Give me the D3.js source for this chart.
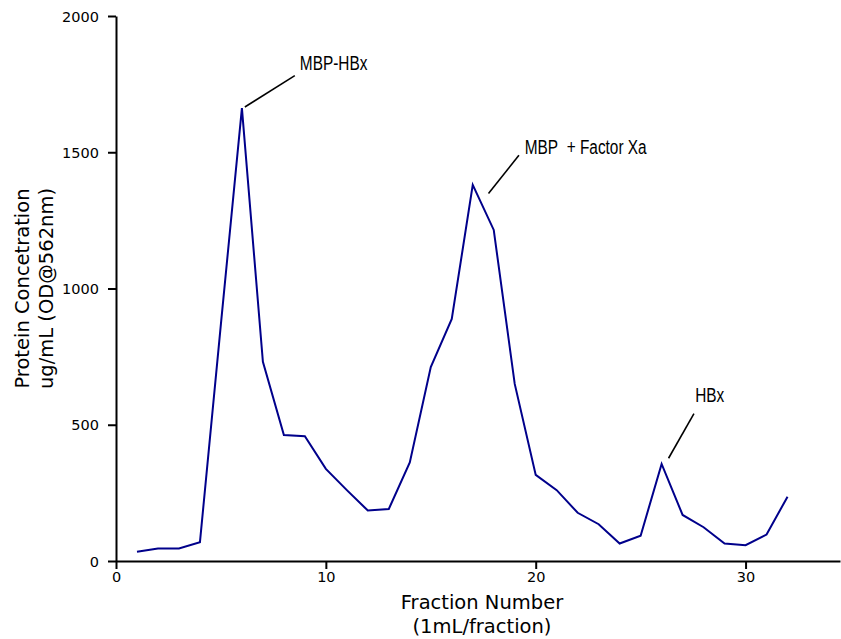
<!DOCTYPE html>
<html>
<head>
<meta charset="utf-8">
<script src="https://cdn.jsdelivr.net/npm/d3@7"></script>
<style>
  body { margin: 0; background: #fff; }
  svg { display: block; }
  .tick text { font-family: "DejaVu Sans", sans-serif; font-size: 14.5px; fill: #000; }
  .axis-title { font-family: "DejaVu Sans", sans-serif; font-size: 19.5px; fill: #000; }
  .note { font-family: "Liberation Sans", Arial, sans-serif; font-size: 20px; fill: #000; }
</style>
</head>
<body>
<div id="chart"></div>
<script>
// fraction number vs protein concentration
const fractions = [1, 2, 3, 4, 5, 6, 7, 8, 9, 10, 11, 12, 13, 14, 15, 16,
  17, 18, 19, 20, 21, 22, 23, 24, 25, 26, 27, 28, 29, 30, 31, 32];
const concentration = [34, 46, 46, 69, 870, 1662, 731, 462, 458, 338, 260, 185, 191, 362, 712, 888,
  1380, 1215, 650, 316, 260, 177, 135, 64, 93, 356, 169, 124, 64, 58, 97, 236];

const xTicks = [0, 10, 20, 30];
const yTicks = [0, 500, 1000, 1500, 2000];

// peak labels: text position and leader line, in data units
const notes = [
  { text: "MBP-HBx", tx: 8.76, ty: 1802, x1: 6.14, y1: 1666, x2: 8.52, y2: 1781 },
  { text: "MBP\u00a0 + Factor Xa", tx: 19.48, ty: 1492, x1: 17.75, y1: 1349, x2: 19.2, y2: 1489 },
  { text: "HBx", tx: 27.6, ty: 583, x1: 26.33, y1: 377, x2: 27.54, y2: 541 },
];

const width = 841, height = 639;
const margin = { left: 116, right: 1, top: 16, bottom: 78 };

const data = fractions.map((f, i) => ({ x: f, y: concentration[i] }));

const svg = d3.select("#chart").append("svg")
  .attr("width", width)
  .attr("height", height);

const x = d3.scaleLinear().domain([0, 34.5]).range([margin.left, width - margin.right]);
const y = d3.scaleLinear().domain([0, 2000]).range([height - margin.bottom, margin.top]);

// axes
const xAxis = svg.append("g")
  .attr("transform", `translate(0,${y(0)})`)
  .call(d3.axisBottom(x).tickValues(xTicks).tickFormat(d3.format("d"))
    .tickSize(8).tickPadding(3).tickSizeOuter(0));
const yAxis = svg.append("g")
  .attr("transform", `translate(${x(0)},0)`)
  .call(d3.axisLeft(y).tickValues(yTicks).tickFormat(d3.format("d"))
    .tickSize(8).tickPadding(9).tickSizeOuter(0));

[xAxis, yAxis].forEach((g) => {
  g.select(".domain").attr("stroke", "#000").attr("stroke-width", 2);
  g.selectAll(".tick line").attr("stroke", "#000").attr("stroke-width", 2);
});
yAxis.selectAll(".tick text").attr("dy", "0.36em");

// the curve
svg.append("path")
  .datum(data)
  .attr("fill", "none")
  .attr("stroke", "#00008b")
  .attr("stroke-width", 2)
  .attr("d", d3.line().x((d) => x(d.x)).y((d) => y(d.y)));

// annotations
const note = svg.selectAll(".note-group")
  .data(notes)
  .enter()
  .append("g")
  .attr("class", "note-group");

note.append("line")
  .attr("x1", (d) => x(d.x1))
  .attr("y1", (d) => y(d.y1))
  .attr("x2", (d) => x(d.x2))
  .attr("y2", (d) => y(d.y2))
  .attr("stroke", "#000")
  .attr("stroke-width", 1.6);

// narrow face: squeeze the regular one
note.append("text")
  .attr("class", "note")
  .attr("transform", (d) => `translate(${x(d.tx)},${y(d.ty)}) scale(0.77,1)`)
  .text((d) => d.text);

// axis titles
const xTitle = svg.append("text")
  .attr("class", "axis-title")
  .attr("text-anchor", "middle")
  .attr("x", 482)
  .attr("y", 609);
xTitle.append("tspan").attr("x", 482).text("Fraction Number");
xTitle.append("tspan").attr("x", 482).attr("dy", 24).text("(1mL/fraction)");

const yMid = (y(0) + y(2000)) / 2;
const yTitle = svg.append("text")
  .attr("class", "axis-title")
  .attr("text-anchor", "middle")
  .attr("transform", `translate(29,${yMid}) rotate(-90)`);
yTitle.append("tspan").attr("x", 0).attr("y", 0).text("Protein Concetration");
yTitle.append("tspan").attr("x", 0).attr("dy", 24).text("ug/mL (OD@562nm)");
</script>
</body>
</html>
